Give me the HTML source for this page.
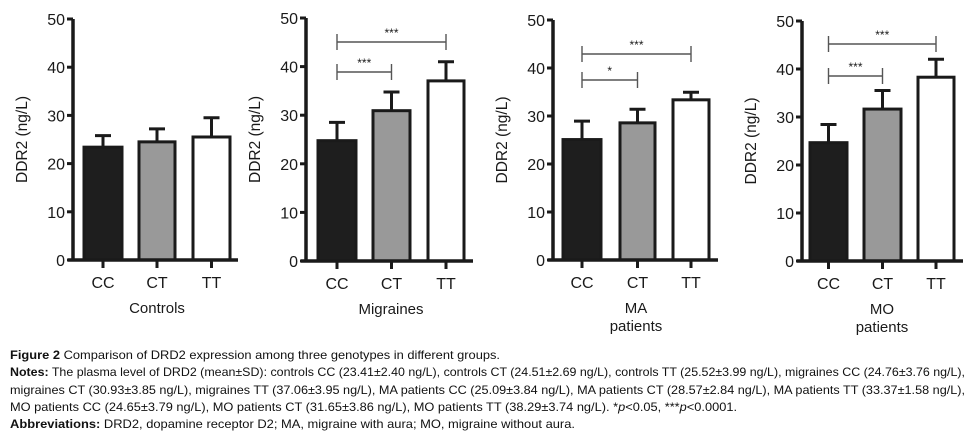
<!DOCTYPE html>
<html><head><meta charset="utf-8"><style>
body{margin:0;background:#fff;}
svg{display:block;font-family:"Liberation Sans",Arial,sans-serif;}
.cap{font-family:"Liberation Sans Narrow","Liberation Sans",sans-serif;font-size:12px;fill:#111;}
</style></head><body>
<svg id="chart" width="975" height="438" viewBox="0 0 975 438"></svg>
<script>
const categories = ["CC","CT","TT"];
const panelTitles = [["Controls"],["Migraines"],["MA","patients"],["MO","patients"]];
const means = [[23.41,24.51,25.52],[24.76,30.93,37.06],[25.09,28.57,33.37],[24.65,31.65,38.29]];
const sds = [[2.40,2.69,3.99],[3.76,3.85,3.95],[3.84,2.84,1.58],[3.79,3.86,3.74]];
const sigLabels = [[],["***","***"],["*","***"],["***","***"]];
const sigTargets = [[],[1,2],[1,2],[1,2]];
const yTicks = [0,10,20,30,40,50];
const fills = ["#1e1e1e","#999999","#ffffff"];

const layout = [
 {ax:73, top:19, bot:260, bars:[[84,122],[139,175],[193,230]], end:238, br:[72,42]},
 {ax:306, top:18, bot:261, bars:[[318,356],[373,410],[428,464]], end:473, br:[72,42]},
 {ax:553, top:20, bot:260, bars:[[563,601],[620,655],[673,709]], end:718, br:[80,54]},
 {ax:802, top:21, bot:261, bars:[[810,847],[864,901],[918,954]], end:963, br:[76,44]}
];
const NS="http://www.w3.org/2000/svg";
const svg=document.getElementById('chart');
function mk(tag,attrs,parent,text){const e=document.createElementNS(NS,tag);for(const k in attrs)e.setAttribute(k,attrs[k]);if(text!==undefined)e.textContent=text;(parent||svg).appendChild(e);return e;}

layout.forEach((L,p)=>{
  const g=mk('g',{});
  
  
  const y=v=>L.bot-(v/50)*(L.bot-L.top);
  categories.forEach((c,i)=>{
    const [x0,x1]=L.bars[i];const cx=(x0+x1)/2;
    const m=means[p][i], s=sds[p][i];
    const eb=mk('path',{d:`M${cx},${y(m)} V${y(m+s)} M${cx-8},${y(m+s)} H${cx+8}`,stroke:'#1a1a1a','stroke-width':3,fill:'none'},g);
    
    
    const r=mk('rect',{x:x0,y:y(m),width:x1-x0,height:L.bot-y(m),fill:fills[i],stroke:'#1a1a1a','stroke-width':3},g);
    
    
    mk('line',{x1:cx,x2:cx,y1:L.bot,y2:L.bot+8,stroke:'#1a1a1a','stroke-width':3},g);
    const t=mk('text',{x:cx,y:L.bot+28,'text-anchor':'middle','font-size':16,fill:'#1a1a1a'},g,c);
    
    
  });
  mk('path',{d:`M${L.ax},${L.top} V${L.bot} M${L.ax-5},${L.bot} H${L.end}`,stroke:'#1a1a1a','stroke-width':3.5,fill:'none'},g);
  yTicks.forEach(v=>{
    mk('line',{x1:L.ax-6,x2:L.ax,y1:y(v),y2:y(v),stroke:'#1a1a1a','stroke-width':3},g);
    const t=mk('text',{x:L.ax-8,y:y(v)+6,'text-anchor':'end','font-size':16,fill:'#1a1a1a'},g,v);
    
    
  });
  const yt=mk('text',{x:0,y:0,transform:`translate(${L.ax-46},${(L.top+L.bot)/2}) rotate(-90)`,'text-anchor':'middle','font-size':15.5,fill:'#1a1a1a'},g,'DDR2 (ng/L)');
  
  
  panelTitles[p].forEach((line,k)=>{
    const t=mk('text',{x:(L.bars[0][0]+L.bars[2][1])/2,y:L.bot+53+k*18,'text-anchor':'middle','font-size':15,fill:'#1a1a1a'},g,line);
    
    
  });
  sigTargets[p].forEach((tgt,k)=>{
    const x0=(L.bars[0][0]+L.bars[0][1])/2, x1=(L.bars[tgt][0]+L.bars[tgt][1])/2, by=L.br[k];
    const b=mk('path',{d:`M${x0},${by-8} V${by+8} M${x0},${by} H${x1} M${x1},${by-8} V${by+8}`,stroke:'#555','stroke-width':1.4,fill:'none'},g);
    
    
    const t=mk('text',{x:(x0+x1)/2,y:by-5,'text-anchor':'middle','font-size':12,fill:'#1a1a1a'},g,sigLabels[p][k]);
    
    
  });
});
</script>
<div style="position:absolute;left:0;top:0;width:975px;height:438px;pointer-events:none">
<svg width="975" height="438" style="position:absolute;left:0;top:0">
<text class="cap" x="10" y="359" textLength="490" lengthAdjust="spacingAndGlyphs"><tspan font-weight="bold">Figure 2</tspan> Comparison of DRD2 expression among three genotypes in different groups.</text>
<text class="cap" x="10" y="376" textLength="955" lengthAdjust="spacingAndGlyphs"><tspan font-weight="bold">Notes:</tspan> The plasma level of DRD2 (mean±SD): controls CC (23.41±2.40 ng/L), controls CT (24.51±2.69 ng/L), controls TT (25.52±3.99 ng/L), migraines CC (24.76±3.76 ng/L),</text>
<text class="cap" x="10" y="394" textLength="955" lengthAdjust="spacingAndGlyphs">migraines CT (30.93±3.85 ng/L), migraines TT (37.06±3.95 ng/L), MA patients CC (25.09±3.84 ng/L), MA patients CT (28.57±2.84 ng/L), MA patients TT (33.37±1.58 ng/L),</text>
<text class="cap" x="10" y="411" textLength="727" lengthAdjust="spacingAndGlyphs">MO patients CC (24.65±3.79 ng/L), MO patients CT (31.65±3.86 ng/L), MO patients TT (38.29±3.74 ng/L). *<tspan font-style="italic">p</tspan>&lt;0.05, ***<tspan font-style="italic">p</tspan>&lt;0.0001.</text>
<text class="cap" x="10" y="428" textLength="565" lengthAdjust="spacingAndGlyphs"><tspan font-weight="bold">Abbreviations:</tspan> DRD2, dopamine receptor D2; MA, migraine with aura; MO, migraine without aura.</text>
</svg></div>
</body></html>
